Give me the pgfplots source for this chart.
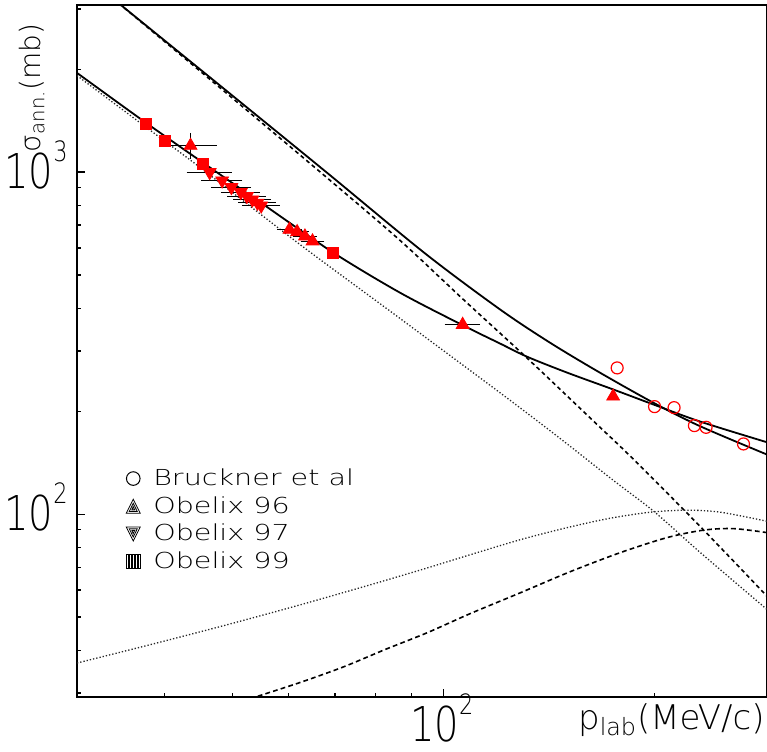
\documentclass[border=0pt]{standalone}
\usepackage{fontspec}
\setmainfont{DejaVu Sans ExtraLight}
\newfontfamily\legfont{DejaVu Sans ExtraLight}[FakeStretch=1.3]
\newfontfamily\tickfont{DejaVu Sans ExtraLight}[FakeStretch=0.8]
\usepackage{pgfplots}
\pgfplotsset{compat=1.18}
\newcommand{\tl}[1]{{\tickfont\fontsize{24}{24}\selectfont 10\raisebox{13.5pt}{\fontsize{14}{14}\selectfont #1}}}
\begin{document}
\begin{tikzpicture}
\useasboundingbox (-38.5pt,-27pt) rectangle (345pt,348.5pt);
\begin{axis}[
  name=ax,
  at={(0,0)}, anchor=south west,
  scale only axis, width=345pt, height=346pt,
  xmode=log, ymode=log,
  xmin=30, xmax=289, ymin=29.2, ymax=3080,
  xtick={100}, xticklabels={\tl{2}},
  ytick={100,1000}, yticklabels={\tl{2},\tl{3}},
  minor xtick={40,50,60,70,80,90,200},
  minor ytick={30,40,50,60,70,80,90,200,300,400,500,600,700,800,900,2000,3000},
  tick pos=left, tick align=inside,
  major tick length=4pt, minor tick length=2pt,
  tick style={black, line width=0.6pt},
  axis line style={line width=0.8pt},
  xticklabel style={anchor=base, inner sep=0pt, yshift=-22.5pt, xshift=-1pt},
  yticklabel style={anchor=base east, inner sep=0pt, xshift=-4.5pt, yshift=-8pt},
  xlabel={p\textsubscript{lab}(MeV/c)},
  xlabel style={at={(rel axis cs:1,0)}, anchor=north east, inner sep=0pt, yshift=-3pt, xshift=-1pt, font=\fontsize{17}{17}\selectfont},
  legend style={draw=none, fill=none, at={(rel axis cs:0.0708,0.3357)}, anchor=north west, inner sep=0pt, outer sep=0pt, row sep=0pt,
     font=\legfont\fontsize{11}{11}\selectfont},
  legend cell align=left,
]
% legend images
\addlegendimage{legend image code/.code={\path[draw=none] (0pt,0pt) -- (11.5pt,0pt); \draw[black, line width=0.5pt] (3.5pt,0pt) circle (3.4pt);}}
\addlegendentry{Bruckner et al}
\addlegendimage{legend image code/.code={\path[draw=none] (0pt,0pt) -- (11.5pt,0pt); \draw[black, line width=0.4pt] (0pt,-3.5pt) -- (7pt,-3.5pt) -- (3.5pt,3.5pt) -- cycle (1.5pt,-2.6pt) -- (5.5pt,-2.6pt) -- (3.5pt,1.5pt) -- cycle (2.8pt,-1.8pt) -- (4.2pt,-1.8pt) -- (3.5pt,-0.2pt) -- cycle;}}
\addlegendentry{Obelix 96}
\addlegendimage{legend image code/.code={\path[draw=none] (0pt,0pt) -- (11.5pt,0pt); \draw[black, line width=0.4pt] (0pt,3.5pt) -- (7pt,3.5pt) -- (3.5pt,-3.5pt) -- cycle (1.5pt,2.6pt) -- (5.5pt,2.6pt) -- (3.5pt,-1.5pt) -- cycle (2.8pt,1.8pt) -- (4.2pt,1.8pt) -- (3.5pt,0.2pt) -- cycle;}}
\addlegendentry{Obelix 97}
\addlegendimage{legend image code/.code={\path[draw=none] (0pt,0pt) -- (11.5pt,0pt); \draw[black, line width=0.4pt] (0pt,-3.5pt) rectangle (7pt,3.5pt);
  \draw[black, line width=0.3pt] (0.78pt,-3.5pt) -- (0.78pt,3.5pt) (1.56pt,-3.5pt) -- (1.56pt,3.5pt) (2.34pt,-3.5pt) -- (2.34pt,3.5pt) (3.12pt,-3.5pt) -- (3.12pt,3.5pt) (3.9pt,-3.5pt) -- (3.9pt,3.5pt) (4.68pt,-3.5pt) -- (4.68pt,3.5pt) (5.46pt,-3.5pt) -- (5.46pt,3.5pt) (6.24pt,-3.5pt) -- (6.24pt,3.5pt);}}
\addlegendentry{Obelix 99}

% upper solid
\addplot[black, line width=0.9pt, smooth, forget plot] coordinates {
(33.76,3216) (48.58,1754) (68.2,995) (94.1,577.9) (120.4,396.3) (141.9,316.7) (167.2,258.8) (199.3,211.4) (232.2,180.6) (289.1,149.3)};
% upper dashed
\addplot[black, line width=0.8pt, dash pattern=on 2pt off 1.6pt, smooth, forget plot] coordinates {
(33.76,3216) (48.58,1727) (68.2,961.6) (86.7,630.5) (106.7,423.8) (131.4,286.2) (162.7,188.9) (186.6,144.4) (232.2,91.9) (289.1,57.5)};
% lower solid (fit)
\addplot[black, line width=0.9pt, smooth, forget plot] coordinates {
(30,1950) (37.36,1408) (45.35,1066) (54.71,817) (69.56,581.7) (86.7,443.6) (106.7,355.8) (120.4,315.1) (131.4,288.7) (149.9,259.3) (174.7,231.2) (199.3,209.0) (232.2,186.4) (289.1,162.2)};
% dotted falling
\addplot[black!85, line width=0.65pt, dash pattern=on 0.65pt off 1.0pt, smooth, forget plot] coordinates {
(30,1915) (37.36,1368) (44.95,1031) (62.4,613.8) (86.7,372.9) (120.4,226.1) (146.6,166.3) (174.7,125.3) (199.3,101.9) (232.2,77.2) (289.1,52.6)};
% dotted rising
\addplot[black!85, line width=0.65pt, dash pattern=on 0.65pt off 1.0pt, smooth, forget plot] coordinates {
(30,36.7) (38.39,41.66) (49.12,47.5) (62.82,54.5) (80.4,63.0) (94.7,69.6) (109.1,76.1) (128.6,84.2) (149.9,91.3) (172.8,97.3) (197.1,101.3) (222.3,102.7) (248,101.3) (289.1,95.3)};
% dashed rising
\addplot[black, line width=0.8pt, dash pattern=on 2.4pt off 1.6pt, smooth, forget plot] coordinates {
(52.97,28.87) (62.4,32.2) (72.05,35.8) (82.5,40.2) (94.7,45.0) (109.1,51.2) (128.6,58.9) (151.5,67.9) (178.6,77.2) (208.2,85.4) (234.8,89.8) (259,90.7) (289.1,88.3)};

% Bruckner et al
\addplot[only marks, mark=o, mark size=3pt, red, mark options={line width=0.6pt}, forget plot] coordinates {
(176.7,267.6) (199.8,206.2) (213.0,204.8) (227.7,181.5) (236.6,179.4) (267.5,160.4)};
% Obelix 99
\addplot[only marks, mark=square*, mark size=2.75pt, red, mark options={draw=red, fill=red}, forget plot] coordinates {
(37.6,1383) (40.07,1234) (45.35,1057) (69.5,580.4)};
% Obelix 97
\addplot[only marks, mark=triangle*, mark size=3.7pt, red, mark options={draw=red, fill=red, rotate=180}, forget plot,
  error bars/.cd, x dir=both, x explicit, error bar style={black, line width=0.5pt}, error mark options={black, mark size=2.4pt, line width=0.5pt}]
  table[x error=ex] {
x y ex
46.37 998.7 2.7
48.31 944.3 2.5
49.8 902.9 2.5
51.36 873.1 2.5
52.4 849.9 2.5
53.36 830.9 2.5
54.25 812.6 2.5
54.92 798.0 2.5
};
% Obelix 96
\addplot[only marks, mark=triangle*, mark size=3.7pt, red, mark options={draw=red, fill=red}, forget plot,
  error bars/.cd, x dir=both, x explicit, y dir=both, y explicit, error bar style={black, line width=0.5pt}, error mark options={black, mark size=2.4pt, line width=0.5pt}]
  table[x error=ex, y error=ey] {
x y ex ey
43.55 1195 3.2 65
};
\addplot[only marks, mark=triangle*, mark size=3.7pt, red, mark options={draw=red, fill=red}, forget plot,
  error bars/.cd, x dir=both, x explicit, error bar style={black, line width=0.5pt}, error mark options={black, mark size=2.4pt, line width=0.5pt}]
  table[x error=ex] {
x y ex
60.26 679 1.5
61.8 668.5 1.5
63.4 649 1.5
65.0 628 1.5
106.4 358 4.5
};
\addplot[only marks, mark=triangle*, mark size=3.7pt, red, mark options={draw=red, fill=red}, forget plot] coordinates {
(174.4,221)};
\end{axis}
\node[rotate=90, anchor=south east, inner sep=0pt, font=\fontsize{14}{14}\selectfont] at ([xshift=-16pt,yshift=-9pt]ax.north west) {σ\textsubscript{ann.}(mb)};
\end{tikzpicture}
\end{document}
